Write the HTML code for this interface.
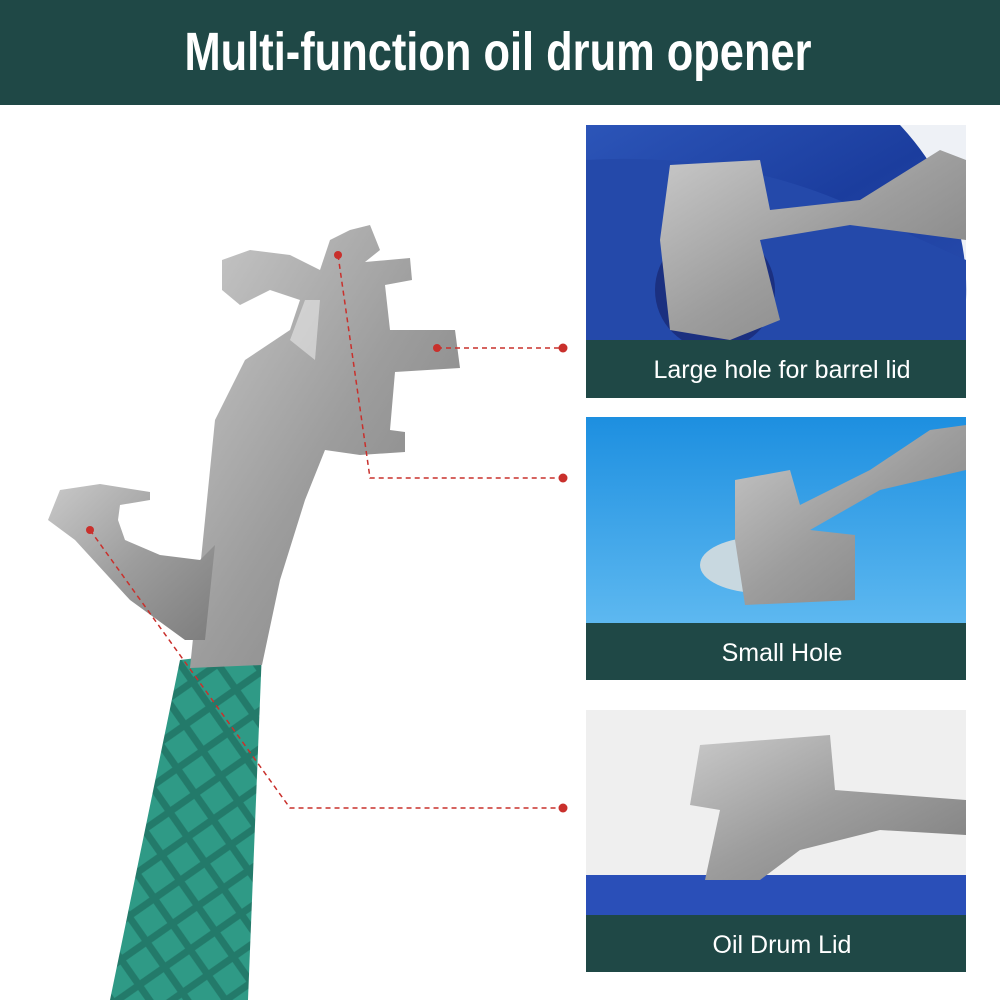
<!DOCTYPE html>
<html><head><style>
body{margin:0;width:1000px;height:1000px;background:#fff;overflow:hidden;font-family:"Liberation Sans",sans-serif}
</style></head><body>
<svg width="1000" height="1000" viewBox="0 0 1000 1000" xmlns="http://www.w3.org/2000/svg">
<defs>
<linearGradient id="met" x1="0" y1="0" x2="1" y2="1"><stop offset="0" stop-color="#c9c9c9"/><stop offset="0.5" stop-color="#9d9d9d"/><stop offset="1" stop-color="#7d7d7d"/></linearGradient>
<linearGradient id="b1" x1="0" y1="0" x2="1" y2="1"><stop offset="0" stop-color="#2c55b8"/><stop offset="0.5" stop-color="#1b3d9e"/><stop offset="1" stop-color="#2a4fb0"/></linearGradient>
<linearGradient id="b2" x1="0" y1="0" x2="0" y2="1"><stop offset="0" stop-color="#1d8fe0"/><stop offset="1" stop-color="#5db8f0"/></linearGradient>
<pattern id="diam" width="44" height="44" patternUnits="userSpaceOnUse" patternTransform="rotate(10)"><rect width="44" height="44" fill="#2f9a86"/><path d="M0 22L22 0L44 22L22 44Z" fill="none" stroke="#237a6a" stroke-width="7"/></pattern>
</defs>
<rect x="0" y="0" width="1000" height="105" fill="#1f4846"/>
<text x="498" y="70" text-anchor="middle" font-family="Liberation Sans Narrow, Liberation Sans, sans-serif" font-weight="bold" font-size="54" fill="#fff" textLength="627" lengthAdjust="spacingAndGlyphs">Multi-function oil drum opener</text>

<!-- handle -->
<path d="M180 660 L262 650 L248 1000 L110 1000 Z" fill="url(#diam)"/>
<!-- wrench body -->
<path d="M190 668 L205 520 L215 420 L245 360 L290 330 L300 300 L270 290 L240 305 L222 290 L222 260 L250 250 L290 255 L320 270 L330 240 L350 230 L370 225 L380 250 L365 262 L410 258 L412 280 L385 285 L390 330 L455 330 L460 368 L395 372 L390 430 L405 432 L405 452 L360 455 L325 450 L305 500 L280 580 L262 665 Z" fill="url(#met)"/>
<path d="M60 490 L100 484 L150 492 L150 500 L120 505 L118 520 L125 540 L160 555 L200 560 L215 545 L205 640 L185 640 L130 600 L75 540 L48 520 Z" fill="url(#met)"/>
<path d="M290 340 L305 300 L320 300 L315 360 Z" fill="#e8e8e8" opacity=".6"/>

<!-- red dashed connectors -->
<g stroke="#c9302c" stroke-width="1.5" stroke-dasharray="5,4" fill="none">
<path d="M437 348 L563 348"/>
<path d="M338 255 L370 478 L563 478"/>
<path d="M90 530 L290 808 L563 808"/>
</g>
<g fill="#c9302c">
<circle cx="563" cy="348" r="4.5"/><circle cx="563" cy="478" r="4.5"/><circle cx="563" cy="808" r="4.5"/>
<circle cx="437" cy="348" r="4"/><circle cx="338" cy="255" r="4"/><circle cx="90" cy="530" r="4"/>
</g>

<!-- panel 1 -->
<rect x="586" y="125" width="380" height="215" fill="#eef1f6"/>
<path d="M586 125 L900 125 Q970 200 966 300 L966 340 L586 340 Z" fill="url(#b1)"/>
<path d="M586 160 Q760 150 900 230 L966 260 L966 340 L586 340 Z" fill="#2449aa"/>
<circle cx="715" cy="290" r="60" fill="#1b3080"/>
<path d="M670 165 L760 160 L770 210 L860 200 L940 150 L966 160 L966 240 L850 225 L760 240 L780 320 L730 340 L670 330 L660 240 Z" fill="url(#met)"/>
<rect x="586" y="340" width="380" height="58" fill="#1f4846"/>
<text x="782" y="378" text-anchor="middle" font-size="25" fill="#fff">Large hole for barrel lid</text>

<!-- panel 2 -->
<rect x="586" y="417" width="380" height="206" fill="url(#b2)"/>
<ellipse cx="760" cy="565" rx="60" ry="28" fill="#c8d8e0"/>
<path d="M735 480 L790 470 L800 505 L870 470 L930 430 L966 425 L966 470 L880 490 L810 530 L855 535 L855 600 L745 605 L735 540 Z" fill="url(#met)"/>
<rect x="586" y="623" width="380" height="57" fill="#1f4846"/>
<text x="782" y="661" text-anchor="middle" font-size="25" fill="#fff">Small Hole</text>

<!-- panel 3 -->
<rect x="586" y="710" width="380" height="205" fill="#efefef"/>
<rect x="586" y="875" width="380" height="40" fill="#2a4fb8"/>
<path d="M700 745 L830 735 L835 790 L966 800 L966 835 L880 830 L800 850 L760 880 L705 880 L720 810 L690 805 Z" fill="url(#met)"/>
<rect x="586" y="915" width="380" height="57" fill="#1f4846"/>
<text x="782" y="953" text-anchor="middle" font-size="25" fill="#fff">Oil Drum Lid</text>
</svg>
</body></html>
